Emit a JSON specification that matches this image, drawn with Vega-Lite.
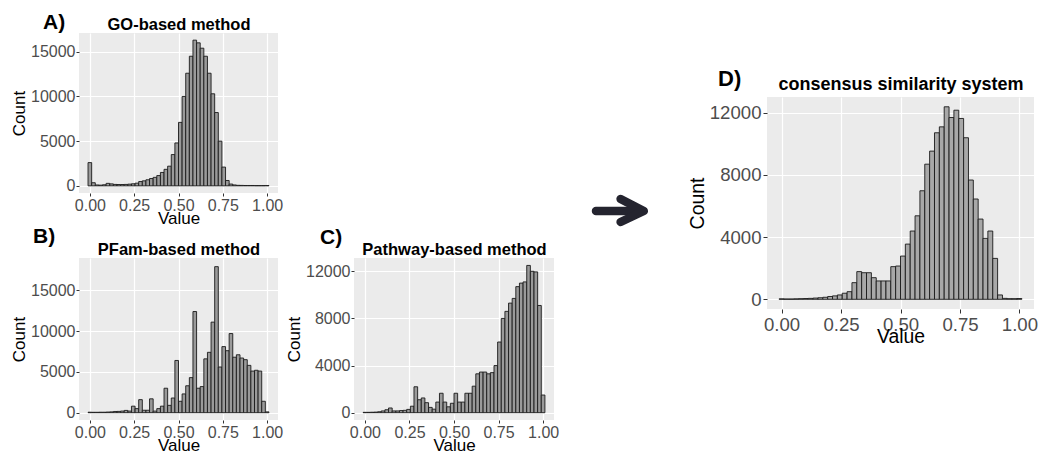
{
  "$schema": "https://vega.github.io/schema/vega-lite/v6.json",
  "autosize": {"type": "pad"},
  "padding": {"left": 10, "top": 12, "right": 0, "bottom": 0},
  "background": "white",
  "config": {
    "font": "Liberation Sans",
    "view": {"fill": "#EBEBEB", "stroke": null},
    "axis": {"gridColor": "#FFFFFF", "gridWidth": 1.2, "domain": false, "tickColor": "#333333", "tickSize": 3, "tickWidth": 1, "labelColor": "#4D4D4D", "titleColor": "#000000", "titleFontWeight": "normal", "labelPadding": 1, "titlePadding": 2, "labelFont": "Liberation Sans", "titleFont": "Liberation Sans", "minExtent": 0},
    "axisBottom": {"titlePadding": -3},
    "title": {"font": "Liberation Sans", "fontWeight": "bold", "color": "#000000"}
  },
  "datasets": {
    "bins": [
      {"lo": -0.0102, "hi": 0.0102, "A": 2600, "B": 60, "C": 30, "D": 30},
      {"lo": 0.0102, "hi": 0.0306, "A": 350, "B": 50, "C": 30, "D": 20},
      {"lo": 0.0306, "hi": 0.051, "A": 100, "B": 50, "C": 40, "D": 20},
      {"lo": 0.051, "hi": 0.0714, "A": 80, "B": 60, "C": 50, "D": 30},
      {"lo": 0.0714, "hi": 0.0918, "A": 120, "B": 60, "C": 80, "D": 40},
      {"lo": 0.0918, "hi": 0.1122, "A": 280, "B": 80, "C": 150, "D": 50},
      {"lo": 0.1122, "hi": 0.1327, "A": 220, "B": 100, "C": 250, "D": 60},
      {"lo": 0.1327, "hi": 0.1531, "A": 160, "B": 150, "C": 400, "D": 80},
      {"lo": 0.1531, "hi": 0.1735, "A": 150, "B": 160, "C": 150, "D": 100},
      {"lo": 0.1735, "hi": 0.1939, "A": 150, "B": 200, "C": 150, "D": 130},
      {"lo": 0.1939, "hi": 0.2143, "A": 160, "B": 280, "C": 180, "D": 180},
      {"lo": 0.2143, "hi": 0.2347, "A": 190, "B": 200, "C": 200, "D": 220},
      {"lo": 0.2347, "hi": 0.2551, "A": 230, "B": 800, "C": 280, "D": 280},
      {"lo": 0.2551, "hi": 0.2755, "A": 300, "B": 500, "C": 550, "D": 390},
      {"lo": 0.2755, "hi": 0.2959, "A": 480, "B": 1600, "C": 2200, "D": 490},
      {"lo": 0.2959, "hi": 0.3163, "A": 560, "B": 300, "C": 1100, "D": 1070},
      {"lo": 0.3163, "hi": 0.3367, "A": 680, "B": 300, "C": 1250, "D": 1780},
      {"lo": 0.3367, "hi": 0.3571, "A": 820, "B": 1700, "C": 850, "D": 1710},
      {"lo": 0.3571, "hi": 0.3776, "A": 950, "B": 200, "C": 450, "D": 1710},
      {"lo": 0.3776, "hi": 0.398, "A": 1150, "B": 500, "C": 300, "D": 1390},
      {"lo": 0.398, "hi": 0.4184, "A": 1500, "B": 800, "C": 900, "D": 1180},
      {"lo": 0.4184, "hi": 0.4388, "A": 1850, "B": 3000, "C": 1650, "D": 1180},
      {"lo": 0.4388, "hi": 0.4592, "A": 2200, "B": 900, "C": 900, "D": 1180},
      {"lo": 0.4592, "hi": 0.4796, "A": 3500, "B": 1800, "C": 500, "D": 2100},
      {"lo": 0.4796, "hi": 0.5, "A": 4800, "B": 6400, "C": 800, "D": 2140},
      {"lo": 0.5, "hi": 0.5204, "A": 7100, "B": 1400, "C": 1650, "D": 2780},
      {"lo": 0.5204, "hi": 0.5408, "A": 10000, "B": 2300, "C": 900, "D": 3550},
      {"lo": 0.5408, "hi": 0.5612, "A": 12600, "B": 3300, "C": 900, "D": 4390},
      {"lo": 0.5612, "hi": 0.5816, "A": 14500, "B": 4300, "C": 1650, "D": 5370},
      {"lo": 0.5816, "hi": 0.602, "A": 16300, "B": 12400, "C": 1650, "D": 6980},
      {"lo": 0.602, "hi": 0.6224, "A": 16000, "B": 3000, "C": 2250, "D": 8690},
      {"lo": 0.6224, "hi": 0.6429, "A": 15400, "B": 3200, "C": 3300, "D": 9530},
      {"lo": 0.6429, "hi": 0.6633, "A": 14500, "B": 6600, "C": 3450, "D": 10710},
      {"lo": 0.6633, "hi": 0.6837, "A": 12600, "B": 7400, "C": 3450, "D": 11090},
      {"lo": 0.6837, "hi": 0.7041, "A": 10300, "B": 11100, "C": 3300, "D": 12380},
      {"lo": 0.7041, "hi": 0.7245, "A": 8200, "B": 17900, "C": 3400, "D": 11690},
      {"lo": 0.7245, "hi": 0.7449, "A": 5000, "B": 5600, "C": 4000, "D": 12160},
      {"lo": 0.7449, "hi": 0.7653, "A": 2100, "B": 8100, "C": 6000, "D": 11630},
      {"lo": 0.7653, "hi": 0.7857, "A": 600, "B": 7600, "C": 8000, "D": 10390},
      {"lo": 0.7857, "hi": 0.8061, "A": 200, "B": 9700, "C": 8600, "D": 7670},
      {"lo": 0.8061, "hi": 0.8265, "A": 100, "B": 6800, "C": 9300, "D": 6450},
      {"lo": 0.8265, "hi": 0.8469, "A": 60, "B": 7100, "C": 9700, "D": 5160},
      {"lo": 0.8469, "hi": 0.8673, "A": 50, "B": 6700, "C": 10700, "D": 3920},
      {"lo": 0.8673, "hi": 0.8878, "A": 40, "B": 6500, "C": 11000, "D": 4390},
      {"lo": 0.8878, "hi": 0.9082, "A": 40, "B": 5800, "C": 11100, "D": 2630},
      {"lo": 0.9082, "hi": 0.9286, "A": 40, "B": 5100, "C": 12500, "D": 280},
      {"lo": 0.9286, "hi": 0.949, "A": 30, "B": 5200, "C": 12000, "D": 60},
      {"lo": 0.949, "hi": 0.9694, "A": 30, "B": 5100, "C": 11950, "D": 40},
      {"lo": 0.9694, "hi": 0.9898, "A": 30, "B": 1400, "C": 9100, "D": 40},
      {"lo": 0.9898, "hi": 1.0102, "A": 40, "B": 100, "C": 1500, "D": 50}
    ],
    "arrow": [
      {"part": "shaft", "i": 0, "x": 0.1625, "y": 0.5316},
      {"part": "shaft", "i": 1, "x": 0.72, "y": 0.5316},
      {"part": "head", "i": 0, "x": 0.47, "y": 0.563},
      {"part": "head", "i": 1, "x": 0.76, "y": 0.5316},
      {"part": "head", "i": 2, "x": 0.47, "y": 0.5026}
    ]
  },
  "spacing": 24,
  "hconcat": [
    {
      "spacing": 0,
      "vconcat": [
        {
          "title": {"text": "A)", "anchor": "start", "frame": "group", "fontSize": 21, "dx": -36, "dy": 34, "offset": 0, "baseline": "alphabetic"},
          "width": 199, "height": 160,
          "data": {"name": "bins"},
          "layer": [
            {"mark": {"type": "bar", "fill": "#9a9a9a", "stroke": "#1a1a1a", "strokeWidth": 0.9},
             "encoding": {
               "x": {"field": "lo", "type": "quantitative", "scale": {"domain": [-0.0612, 1.0612], "nice": false, "zero": false}, "axis": {"values": [0, 0.25, 0.5, 0.75, 1], "format": ".2f", "title": "Value", "labelFontSize": 16, "titleFontSize": 17}},
               "x2": {"field": "hi"},
               "y": {"field": "A", "type": "quantitative", "scale": {"domain": [-800, 17100], "nice": false, "zero": false}, "axis": {"values": [0, 5000, 10000, 15000], "format": "d", "title": "Count", "labelFontSize": 16, "titleFontSize": 17}},
               "y2": {"datum": 0}
             }},
            {"mark": {"type": "point", "opacity": 0},
             "encoding": {
               "x": {"field": "lo", "type": "quantitative", "axis": {"orient": "top", "values": [0.125, 0.375, 0.625, 0.875], "gridWidth": 0.6, "labels": false, "ticks": false, "title": "GO-based method", "titleFontSize": 16.5, "titleFontWeight": "bold", "titlePadding": 1}},
               "y": {"field": "A", "type": "quantitative", "axis": {"orient": "right", "values": [2500, 7500, 12500], "gridWidth": 0.6, "labels": false, "ticks": false, "title": null}}
             }}
          ],
          "resolve": {"axis": {"x": "independent", "y": "independent"}}
        },
        {
          "spacing": 2,
          "hconcat": [
            {
              "title": {"text": "B)", "anchor": "start", "frame": "group", "fontSize": 21, "dx": -46, "dy": 23, "offset": 0, "baseline": "alphabetic"},
              "width": 199, "height": 162,
              "data": {"name": "bins"},
              "layer": [
                {"mark": {"type": "bar", "fill": "#9a9a9a", "stroke": "#1a1a1a", "strokeWidth": 0.9},
                 "encoding": {
                   "x": {"field": "lo", "type": "quantitative", "scale": {"domain": [-0.0612, 1.0612], "nice": false, "zero": false}, "axis": {"values": [0, 0.25, 0.5, 0.75, 1], "format": ".2f", "title": "Value", "labelFontSize": 16, "titleFontSize": 17}},
                   "x2": {"field": "hi"},
                   "y": {"field": "B", "type": "quantitative", "scale": {"domain": [-895, 18960], "nice": false, "zero": false}, "axis": {"values": [0, 5000, 10000, 15000], "format": "d", "title": "Count", "labelFontSize": 16, "titleFontSize": 17}},
                   "y2": {"datum": 0}
                 }},
                {"mark": {"type": "point", "opacity": 0},
                 "encoding": {
                   "x": {"field": "lo", "type": "quantitative", "axis": {"orient": "top", "values": [0.125, 0.375, 0.625, 0.875], "gridWidth": 0.6, "labels": false, "ticks": false, "title": "PFam-based method", "titleFontSize": 16.5, "titleFontWeight": "bold", "titlePadding": 1}},
                   "y": {"field": "B", "type": "quantitative", "axis": {"orient": "right", "values": [2500, 7500, 12500, 17500], "gridWidth": 0.6, "labels": false, "ticks": false, "title": null}}
                 }}
              ],
              "resolve": {"axis": {"x": "independent", "y": "independent"}}
            },
            {
              "title": {"text": "C)", "anchor": "start", "frame": "group", "fontSize": 21, "dx": -34, "dy": 24, "offset": 0, "baseline": "alphabetic"},
              "width": 200, "height": 162,
              "data": {"name": "bins"},
              "layer": [
                {"mark": {"type": "bar", "fill": "#9a9a9a", "stroke": "#1a1a1a", "strokeWidth": 0.9},
                 "encoding": {
                   "x": {"field": "lo", "type": "quantitative", "scale": {"domain": [-0.0612, 1.0612], "nice": false, "zero": false}, "axis": {"values": [0, 0.25, 0.5, 0.75, 1], "format": ".2f", "title": "Value", "labelFontSize": 16, "titleFontSize": 17}},
                   "x2": {"field": "hi"},
                   "y": {"field": "C", "type": "quantitative", "scale": {"domain": [-620, 13130], "nice": false, "zero": false}, "axis": {"values": [0, 4000, 8000, 12000], "format": "d", "title": "Count", "labelFontSize": 16, "titleFontSize": 17}},
                   "y2": {"datum": 0}
                 }},
                {"mark": {"type": "point", "opacity": 0},
                 "encoding": {
                   "x": {"field": "lo", "type": "quantitative", "axis": {"orient": "top", "values": [0.125, 0.375, 0.625, 0.875], "gridWidth": 0.6, "labels": false, "ticks": false, "title": "Pathway-based method", "titleFontSize": 16.5, "titleFontWeight": "bold", "titlePadding": 1}},
                   "y": {"field": "C", "type": "quantitative", "axis": {"orient": "right", "values": [2000, 6000, 10000], "gridWidth": 0.6, "labels": false, "ticks": false, "title": null}}
                 }}
              ],
              "resolve": {"axis": {"x": "independent", "y": "independent"}}
            }
          ]
        }
      ]
    },
    {
      "width": 80, "height": 380,
      "view": {"fill": "transparent", "stroke": null},
      "data": {"name": "arrow"},
      "mark": {"type": "line", "stroke": "#24242f", "strokeWidth": 8.5, "strokeCap": "round", "strokeJoin": "round"},
      "encoding": {
        "x": {"field": "x", "type": "quantitative", "scale": {"domain": [0, 1], "nice": false, "zero": false}, "axis": null},
        "y": {"field": "y", "type": "quantitative", "scale": {"domain": [0, 1], "nice": false, "zero": false}, "axis": null},
        "detail": {"field": "part"},
        "order": {"field": "i"}
      }
    },
    {
      "spacing": 29,
      "vconcat": [
        {
          "width": 267, "height": 1,
          "view": {"fill": "transparent", "stroke": null},
          "data": {"values": [{"t": ""}]},
          "mark": {"type": "text"},
          "encoding": {"text": {"field": "t"}}
        },
        {
          "title": {"text": "D)", "anchor": "start", "frame": "group", "fontSize": 22, "dx": -49, "dy": 33, "offset": 0, "baseline": "alphabetic"},
          "width": 267, "height": 212,
          "data": {"name": "bins"},
          "layer": [
            {"mark": {"type": "bar", "fill": "#a8a8a8", "stroke": "#1a1a1a", "strokeWidth": 0.9},
             "encoding": {
               "x": {"field": "lo", "type": "quantitative", "scale": {"domain": [-0.0612, 1.0612], "nice": false, "zero": false}, "axis": {"values": [0, 0.25, 0.5, 0.75, 1], "format": ".2f", "title": "Value", "labelFontSize": 18.6, "titleFontSize": 19.4, "tickSize": 4, "labelPadding": 2, "titlePadding": -6}},
               "x2": {"field": "hi"},
               "y": {"field": "D", "type": "quantitative", "scale": {"domain": [-624, 13010], "nice": false, "zero": false}, "axis": {"values": [0, 4000, 8000, 12000], "format": "d", "title": "Count", "labelFontSize": 18.6, "titleFontSize": 19.4, "tickSize": 4, "labelPadding": 2}},
               "y2": {"datum": 0}
             }},
            {"mark": {"type": "point", "opacity": 0},
             "encoding": {
               "x": {"field": "lo", "type": "quantitative", "axis": {"orient": "top", "values": [0.125, 0.375, 0.625, 0.875], "gridWidth": 0.6, "labels": false, "ticks": false, "title": "consensus similarity system", "titleFontSize": 18, "titleFontWeight": "bold", "titlePadding": 4}},
               "y": {"field": "D", "type": "quantitative", "axis": {"orient": "right", "values": [2000, 6000, 10000], "gridWidth": 0.6, "labels": false, "ticks": false, "title": null}}
             }}
          ],
          "resolve": {"axis": {"x": "independent", "y": "independent"}}
        }
      ]
    }
  ]
}
